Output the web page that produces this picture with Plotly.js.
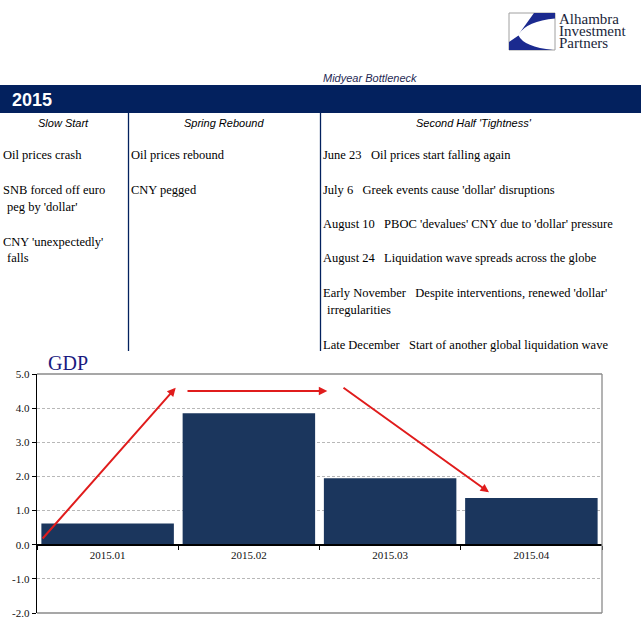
<!DOCTYPE html>
<html>
<head>
<meta charset="utf-8">
<script src="https://cdn.plot.ly/plotly-3.0.1.min.js"></script>
<style>html,body{margin:0;padding:0;background:#fff;}#chart{width:641px;height:640px;}</style>
</head>
<body>
<div id="chart"></div>
<script>
// ---- data ----
const quarters = ["2015.01", "2015.02", "2015.03", "2015.04"];
const gdp = [0.62, 3.85, 1.95, 1.37];
const yTickVals = [-2, -1, 0, 1, 2, 3, 4, 5];
const yTickText = ["-2.0", "-1.0", "0.0", "1.0", "2.0", "3.0", "4.0", "5.0"];

const yearLabel = "2015";
const topNote = "Midyear Bottleneck";
const phaseHeaders = ["Slow Start", "Spring Rebound", "Second Half 'Tightness'"];
const col1Lines = ["Oil prices crash", "SNB forced off euro", "peg by 'dollar'", "CNY 'unexpectedly'", "falls"];
const col2Lines = ["Oil prices rebound", "CNY pegged"];
const col3Lines = [
  "June 23\u00a0\u00a0 Oil prices start falling again",
  "July 6\u00a0\u00a0 Greek events cause 'dollar' disruptions",
  "August 10\u00a0\u00a0 PBOC 'devalues' CNY due to 'dollar' pressure",
  "August 24\u00a0\u00a0 Liquidation wave spreads across the globe",
  "Early November\u00a0\u00a0 Despite interventions, renewed 'dollar'",
  "irregularities",
  "Late December\u00a0\u00a0 Start of another global liquidation wave"
];
const logoLines = ["Alhambra", "Investment", "Partners"];

// ---- helpers (pixel -> paper) ----
const W = 641, H = 640;
const px = X => X / W;
const py = Y => 1 - Y / H;
const SERIF = "Liberation Serif, Times New Roman, serif";
const SANS = "Liberation Sans, Arial, sans-serif";
const NAVY = "#03215e";

const annotations = [];
const shapes = [];
function txt(t, X, Y, opts) {
  annotations.push(Object.assign({
    text: t, xref: "paper", yref: "paper", x: px(X), y: py(Y),
    xanchor: "left", yanchor: "middle", showarrow: false, borderpad: 0,
    font: {family: SERIF, size: 12.5, color: "#000"}
  }, opts || {}));
}

// header band
shapes.push({type: "rect", xref: "paper", yref: "paper", x0: 0, x1: 1, y0: py(113), y1: py(85),
  fillcolor: NAVY, line: {width: 0}});
txt(yearLabel, 11, 99.5, {font: {family: SANS, size: 18, color: "#fff", weight: "bold"}});
txt(topNote, 370, 77.5, {xanchor: "center", font: {family: SANS, size: 11, color: "#1f2a55", style: "italic"}});
// column dividers
[128.5, 320.5].forEach(X => shapes.push({type: "line", xref: "paper", yref: "paper",
  x0: px(X), x1: px(X), y0: py(113), y1: py(351), line: {color: NAVY, width: 1.3}}));
// phase headers
txt(phaseHeaders[0], 63, 122.5, {xanchor: "center", font: {family: SANS, size: 11, color: "#000", style: "italic"}});
txt(phaseHeaders[1], 224, 122.5, {xanchor: "center", font: {family: SANS, size: 11, color: "#000", style: "italic"}});
txt(phaseHeaders[2], 474, 122.5, {xanchor: "center", font: {family: SANS, size: 11, color: "#000", style: "italic"}});
// column texts
const c1Y = [155.5, 190, 207, 241.5, 257.5], c1X = [1.5, 1.5, 6, 1.5, 6];
col1Lines.forEach((t, i) => txt(t, c1X[i], c1Y[i]));
const c2Y = [155.5, 190];
col2Lines.forEach((t, i) => txt(t, 129.5, c2Y[i]));
const c3Y = [155.5, 190, 224, 258, 292.5, 309.5, 344.5], c3X = [321.5, 321.5, 321.5, 321.5, 321.5, 326, 321.5];
col3Lines.forEach((t, i) => txt(t, c3X[i], c3Y[i]));

// logo
shapes.push({type: "rect", xref: "paper", yref: "paper", x0: px(509), x1: px(555), y0: py(50), y1: py(13),
  fillcolor: "#fff", line: {color: "#a0a0a0", width: 1}});
function pathStr(cmds) {
  return cmds.map(c => c[0] + c.slice(1).map((v, k) => (k % 2 === 0 ? px(v) : py(v)).toFixed(5)).join(",")).join(" ");
}
shapes.push({type: "path", xref: "paper", yref: "paper", fillcolor: "#1b2a8f", line: {width: 0},
  path: pathStr([["M", 534, 13], ["L", 555, 13], ["L", 555, 18.5], ["Q", 527, 21, 518.5, 34.5]]) + " Z"});
shapes.push({type: "path", xref: "paper", yref: "paper", fillcolor: "#1b2a8f", line: {width: 0},
  path: pathStr([["M", 509, 50], ["L", 509, 42], ["L", 518.5, 35.5], ["Q", 524, 47, 553, 50]]) + " Z"});
// logo wordmark: one text block, tight line spacing (base size sets spacing, span sets glyph size)
txt(logoLines.map(s => "<span style='font-size:15px'>" + s + "</span>").join("<br>"), 558, 31.5,
  {align: "left", font: {family: SERIF, size: 9.3, color: "#1a1f3a"}});

// chart title
txt("GDP", 47, 362.5, {font: {family: SERIF, size: 20, color: "#1a1a80"}});

// plot frame (top, right, bottom) in grey
const L = 37, R = 602, T = 374, B = 613;
[[L, T, R, T], [R, T, R, B], [L, B, R, B]].forEach(s => shapes.push({type: "line", xref: "paper", yref: "paper",
  x0: px(s[0]), y0: py(s[1]), x1: px(s[2]), y1: py(s[3]), line: {color: "#8a8a8a", width: 1.3}}));

// red arrows: [headX, headY, tailX, tailY]
const arrows = [[175.7, 387.7, 41.3, 540], [327.3, 391, 186, 391], [489, 492.3, 342, 386.7]];
arrows.forEach(a => annotations.push({text: "", xref: "paper", yref: "paper", x: px(a[0]), y: py(a[1]),
  ax: a[2] - a[0], ay: a[3] - a[1], showarrow: true, arrowhead: 2, arrowsize: 0.85, arrowwidth: 2,
  arrowcolor: "#e01c1c", standoff: 0}));

const zeroPos = py(544.3);

const trace = {
  type: "bar", x: quarters, y: gdp,
  marker: {color: "#1b365d", line: {width: 0}},
  hoverinfo: "skip"
};

const layout = {
  width: W, height: H,
  margin: {l: 0, r: 0, t: 0, b: 0},
  paper_bgcolor: "#fff", plot_bgcolor: "#fff",
  showlegend: false,
  bargap: 0.062,
  xaxis: {
    domain: [px(L), px(R)], anchor: "free", position: zeroPos,
    type: "category", range: [-0.5, 3.5],
    showline: true, linecolor: "#000", linewidth: 1.3,
    ticks: "outside", tickson: "boundaries", ticklen: 4, tickcolor: "#000", tickwidth: 1,
    showgrid: false, zeroline: false,
    tickfont: {family: SERIF, size: 11, color: "#111"}
  },
  yaxis: {
    domain: [py(B), py(T)], anchor: "x", range: [-2, 5],
    tickmode: "array", tickvals: yTickVals, ticktext: yTickText,
    showline: true, linecolor: "#000", linewidth: 1.3,
    ticks: "outside", ticklen: 4, tickcolor: "#000",
    showgrid: true, gridcolor: "#b8b8b8", griddash: "3px,2px", gridwidth: 1,
    zeroline: false,
    tickfont: {family: SERIF, size: 11, color: "#111"}
  },
  shapes: shapes,
  annotations: annotations
};

Plotly.newPlot("chart", [trace], layout, {staticPlot: true, displayModeBar: false});
</script>
</body>
</html>
